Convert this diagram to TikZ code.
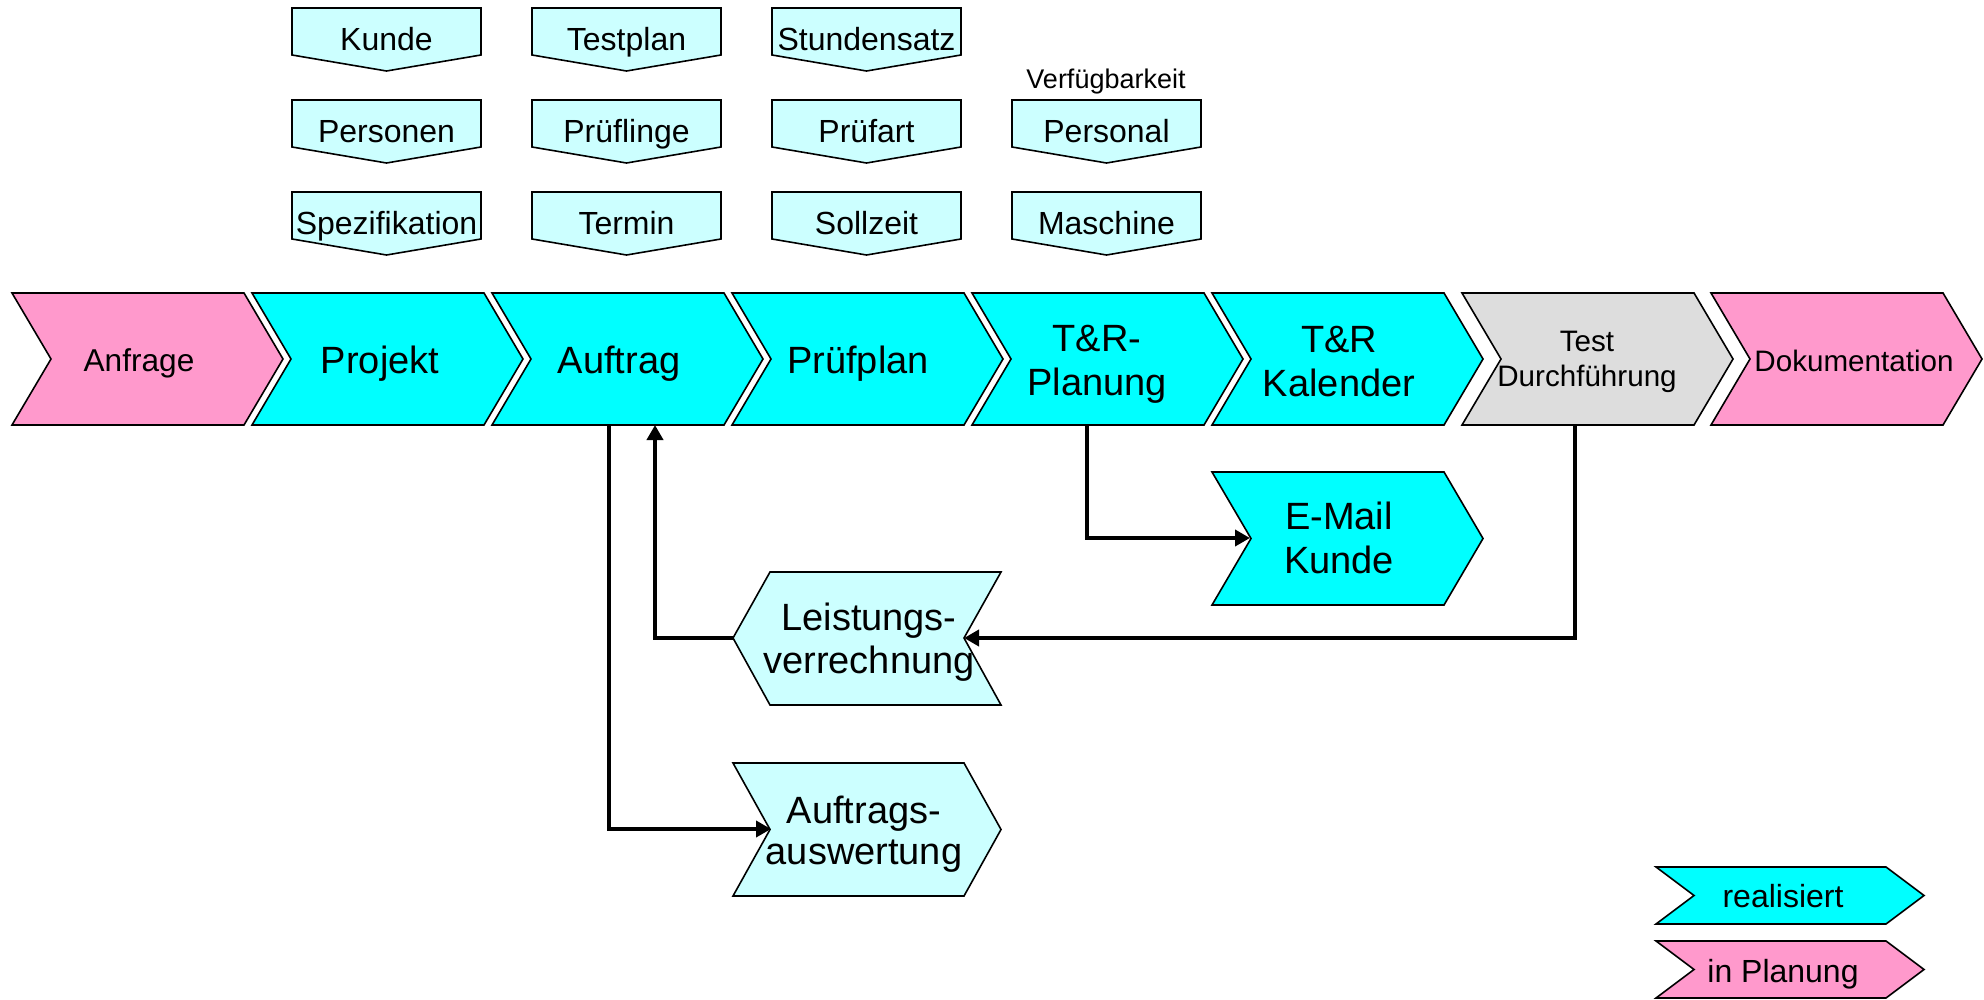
\documentclass[tikz,border=0pt]{standalone}
\usepackage{fontspec}
\setmainfont{Liberation Sans}
\usetikzlibrary{arrows.meta}
\definecolor{cy}{HTML}{00FFFF}
\definecolor{pk}{HTML}{FF99CC}
\definecolor{gy}{HTML}{DDDDDD}
\definecolor{lc}{HTML}{CCFFFF}
% right-pointing chevron: #1 x, #2 top y, #3 top width, #4 tip, #5 height, #6 fill
\newcommand{\chevR}[6]{%
  \draw[outl,fill=#6] (#1,#2) -- ++(#3,0) -- ++(#4,#5/2) -- ++(-#4,#5/2) -- ++(-#3,0) -- ++(#4,-#5/2) -- cycle;}
% data box with pointer: #1 x, #2 top y
\newcommand{\dbox}[2]{%
  \draw[outl,fill=lc] (#1,#2) -- ++(189,0) -- ++(0,47) -- ++(-94.5,16) -- ++(-94.5,-16) -- cycle;}
\begin{document}
\begin{tikzpicture}[x=0.5pt,y=-0.5pt,
  outl/.style={draw=black,line width=0.8pt,line join=miter},
  conn/.style={line width=2.1pt,-{Triangle[length=7.5pt,width=8pt]}},
  txt/.style={inner sep=0pt,text depth=0pt},
  big/.style={txt,font=\fontsize{19}{22}\selectfont,align=center},
  mid/.style={txt,font=\fontsize{15.8}{17.5}\selectfont,align=center},
  small/.style={txt,font=\fontsize{14.8}{17.5}\selectfont,align=center},
  boxt/.style={txt,font=\fontsize{16}{19}\selectfont},
  tiny/.style={txt,font=\fontsize{13.5}{16}\selectfont}]
\useasboundingbox (0,0) rectangle (1984,1000);

% main process chain
\chevR{12}{293}{232}{39}{132}{pk}
\chevR{252}{293}{232}{39}{132}{cy}
\chevR{492}{293}{232}{39}{132}{cy}
\chevR{732}{293}{232}{39}{132}{cy}
\chevR{972}{293}{232}{39}{132}{cy}
\chevR{1212}{293}{232}{39}{132}{cy}
\chevR{1462}{293}{232}{39}{132}{gy}
\chevR{1711}{293}{232}{39}{132}{pk}

\node[mid] (anfrage) at (139,360) {Anfrage};
\node[big] (projekt) at (380,360) {Projekt};
\node[big] (auftrag) at (619,360) {Auftrag};
\node[big] (pruefplan) at (858,360) {Prüfplan};
\node[big] (trplanung) at (1097,360) {T\&R-\\Planung};
\node[big] (trkalender) at (1339,361) {T\&R\\Kalender};
\node[small] (test) at (1587,359) {Test\\Durchführung};
\node[small] (doku) at (1854,361) {Dokumentation};

% lower shapes
\chevR{1212}{472}{232}{39}{133}{cy}
\node[big] (email) at (1339,538) {E-Mail\\Kunde};

\draw[outl,fill=lc] (770,572) -- (1001,572) -- (964,638) -- (1001,705) -- (770,705) -- (733,638) -- cycle;
\node[big,font=\fontsize{19}{21.5}\selectfont] (leist) at (869,638) {Leistungs-\\verrechnung};

\chevR{733}{763}{231}{37}{133}{lc}
\node[big,font=\fontsize{19}{20.5}\selectfont] (ausw) at (864,830) {Auftrags-\\auswertung};

% anchor coordinates
\coordinate (auftrag-b1) at (609,425);
\coordinate (auftrag-b2) at (655,425);
\coordinate (ausw-notch) at (771,829);
\coordinate (leist-tip) at (733,638);
\coordinate (leist-notch) at (964,638);
\coordinate (trpl-b) at (1087,425);
\coordinate (email-notch) at (1250,538);
\coordinate (test-b) at (1575,425);

% connectors
\draw[conn] (auftrag-b1) |- (ausw-notch);
\draw[conn] (leist-tip) -| (auftrag-b2);
\draw[conn] (trpl-b) |- (email-notch);
\draw[conn] (test-b) |- (leist-notch);

% data boxes
\dbox{292}{8}   \node[boxt] (kunde) at (386.5,39) {Kunde};
\dbox{292}{100} \node[boxt] (personen) at (386.5,131) {Personen};
\dbox{292}{192} \node[boxt] (spez) at (386.5,223) {Spezifikation};
\dbox{532}{8}   \node[boxt] (testplan) at (626.5,39) {Testplan};
\dbox{532}{100} \node[boxt] (prueflinge) at (626.5,131) {Prüflinge};
\dbox{532}{192} \node[boxt] (termin) at (626.5,223) {Termin};
\dbox{772}{8}   \node[boxt] (stundensatz) at (866.5,39) {Stundensatz};
\dbox{772}{100} \node[boxt] (pruefart) at (866.5,131) {Prüfart};
\dbox{772}{192} \node[boxt] (sollzeit) at (866.5,223) {Sollzeit};
\dbox{1012}{100} \node[boxt] (personal) at (1106.5,131) {Personal};
\dbox{1012}{192} \node[boxt] (maschine) at (1106.5,223) {Maschine};
\node[tiny] (verf) at (1106,79) {Verfügbarkeit};

% legend
\chevR{1656}{867}{230}{38}{57}{cy}
\node[boxt] (leg1) at (1783,896) {realisiert};
\chevR{1656}{941}{230}{38}{57}{pk}
\node[boxt] (leg2) at (1783,971) {in Planung};
\end{tikzpicture}
\end{document}
